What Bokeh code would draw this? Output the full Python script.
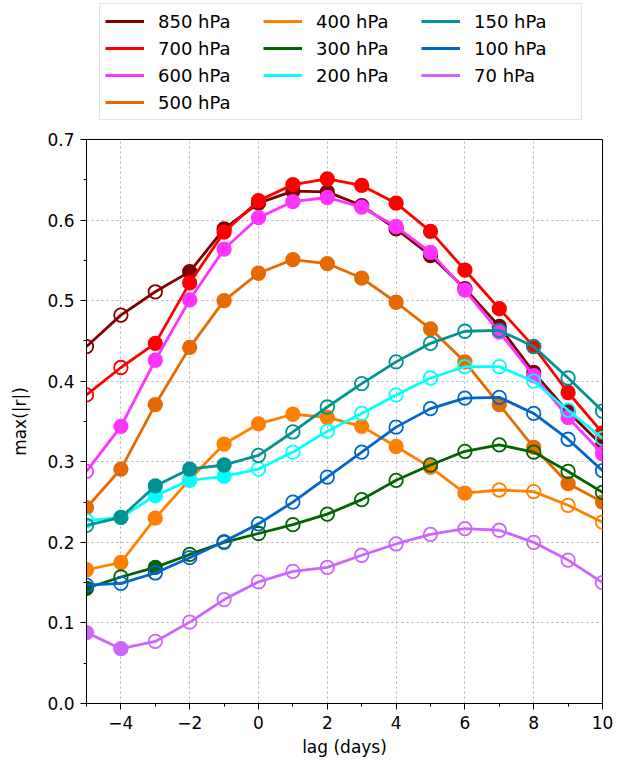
from bokeh.plotting import figure
from bokeh.layouts import column
from bokeh.models import (ColumnDataSource, Legend, LegendItem, Range1d, FixedTicker,
                          NumeralTickFormatter)
from bokeh.embed import file_html
from bokeh.resources import INLINE

lags = list(range(-5, 11))

levels = ["850 hPa", "700 hPa", "600 hPa", "500 hPa", "400 hPa", "300 hPa",
          "200 hPa", "150 hPa", "100 hPa", "70 hPa"]
colors = ["#800000", "#ff0000", "#ff33ff", "#e66a00", "#ff8000", "#006400",
          "#00ffff", "#009393", "#0066cc", "#cc66ff"]

r850 = [0.443, 0.482, 0.511, 0.536, 0.589, 0.621, 0.636, 0.635, 0.618, 0.589, 0.556, 0.515, 0.468, 0.411, 0.362, 0.320]
r700 = [0.383, 0.417, 0.447, 0.522, 0.585, 0.624, 0.644, 0.651, 0.643, 0.621, 0.586, 0.538, 0.490, 0.443, 0.386, 0.336]
r600 = [0.288, 0.344, 0.426, 0.501, 0.564, 0.603, 0.623, 0.628, 0.616, 0.592, 0.560, 0.513, 0.461, 0.407, 0.355, 0.310]
r500 = [0.243, 0.291, 0.371, 0.442, 0.500, 0.534, 0.551, 0.546, 0.528, 0.498, 0.465, 0.424, 0.371, 0.318, 0.273, 0.250]
r400 = [0.166, 0.175, 0.230, 0.278, 0.322, 0.347, 0.359, 0.355, 0.344, 0.319, 0.293, 0.261, 0.265, 0.263, 0.246, 0.225]
r300 = [0.143, 0.157, 0.169, 0.185, 0.200, 0.211, 0.222, 0.235, 0.253, 0.277, 0.296, 0.313, 0.321, 0.312, 0.288, 0.262]
r200 = [0.227, 0.231, 0.258, 0.277, 0.282, 0.291, 0.312, 0.338, 0.360, 0.383, 0.404, 0.418, 0.418, 0.400, 0.364, 0.329]
r150 = [0.221, 0.231, 0.270, 0.291, 0.296, 0.308, 0.337, 0.368, 0.397, 0.424, 0.447, 0.462, 0.463, 0.443, 0.404, 0.363]
r100 = [0.147, 0.149, 0.162, 0.181, 0.201, 0.223, 0.250, 0.281, 0.312, 0.343, 0.366, 0.379, 0.380, 0.360, 0.328, 0.289]
r70 = [0.088, 0.068, 0.077, 0.101, 0.129, 0.151, 0.164, 0.169, 0.184, 0.198, 0.210, 0.217, 0.215, 0.200, 0.178, 0.150]

# 1 = filled marker (significant), 0 = open marker
s850 = [0, 0, 0, 1, 1, 1, 1, 1, 1, 1, 1, 1, 1, 1, 1, 1]
s700 = [0, 0, 1, 1, 1, 1, 1, 1, 1, 1, 1, 1, 1, 1, 1, 1]
s600 = [0, 1, 1, 1, 1, 1, 1, 1, 1, 1, 1, 1, 1, 1, 1, 1]
s500 = [1, 1, 1, 1, 1, 1, 1, 1, 1, 1, 1, 1, 1, 1, 1, 1]
s400 = [1, 1, 1, 1, 1, 1, 1, 1, 1, 1, 1, 1, 0, 0, 0, 0]
s300 = [1, 0, 1, 0, 0, 0, 0, 0, 0, 0, 0, 0, 0, 0, 0, 0]
s200 = [0, 1, 1, 1, 1, 0, 0, 0, 0, 0, 0, 0, 0, 0, 0, 0]
s150 = [0, 1, 1, 1, 1, 0, 0, 0, 0, 0, 0, 0, 0, 0, 0, 0]
s100 = [0, 0, 0, 0, 0, 0, 0, 0, 0, 0, 0, 0, 0, 0, 0, 0]
s70 = [1, 1, 0, 0, 0, 0, 0, 0, 0, 0, 0, 0, 0, 0, 0, 0]

values = [r850, r700, r600, r500, r400, r300, r200, r150, r100, r70]
signif = [s850, s700, s600, s500, s400, s300, s200, s150, s100, s70]

# legend filled row by row (3 columns: 850-500 | 400-200 | 150-70)
legend_order = [0, 4, 7, 1, 5, 8, 2, 6, 9, 3]

x_ticks = [-4, -2, 0, 2, 4, 6, 8, 10]
x_tick_labels = ["\u22124", "\u22122", "0", "2", "4", "6", "8", "10"]
x_minor = list(range(-5, 11))
y_ticks = [0.0, 0.1, 0.2, 0.3, 0.4, 0.5, 0.6, 0.7]
y_minor = [0.05, 0.15, 0.25, 0.35, 0.45, 0.55, 0.65]

FONT = "DejaVu Sans"
LW = 2.8

p = figure(width=616, height=629, output_backend="svg", toolbar_location=None,
           x_range=Range1d(-5, 10), y_range=Range1d(0, 0.7),
           min_border_left=86, min_border_right=14, min_border_top=8, min_border_bottom=57)
p.background_fill_color = "white"
p.outline_line_color = "black"
p.outline_line_width = 1
p.outline_line_alpha = 1

p.xaxis.ticker = FixedTicker(ticks=x_ticks, minor_ticks=x_minor)
p.yaxis.ticker = FixedTicker(ticks=y_ticks, minor_ticks=y_minor)
p.xaxis.major_label_overrides = {t: l for t, l in zip(x_ticks, x_tick_labels)}
p.yaxis.formatter = NumeralTickFormatter(format="0.0")

for ax in (p.xaxis[0], p.yaxis[0]):
    ax.axis_line_color = "black"
    ax.major_tick_line_color = "black"
    ax.minor_tick_line_color = "black"
    ax.major_tick_in = 0
    ax.major_tick_out = 6
    ax.minor_tick_in = 0
    ax.minor_tick_out = 3
    ax.major_label_text_font = FONT
    ax.major_label_text_font_size = "17px"
    ax.major_label_text_color = "black"
    ax.axis_label_text_font = FONT
    ax.axis_label_text_font_size = "17px"
    ax.axis_label_text_font_style = "normal"
    ax.axis_label_text_color = "black"
    ax.major_label_standoff = 6

p.xaxis.axis_label = "lag (days)"
p.yaxis.axis_label = "max(|r|)"
p.xaxis.axis_label_standoff = 5
p.yaxis.axis_label_standoff = 14

p.xgrid.ticker = FixedTicker(ticks=x_ticks)
p.ygrid.ticker = FixedTicker(ticks=y_ticks)
for g in (p.xgrid[0], p.ygrid[0]):
    g.grid_line_color = "#b0b0b0"
    g.grid_line_dash = "2 3"
    g.grid_line_width = 1

sources = []
for col, vals, sig in zip(colors, values, signif):
    src = ColumnDataSource(dict(x=lags, y=vals, fa=[float(s) for s in sig]))
    sources.append(src)
    p.line("x", "y", source=src, line_color=col, line_width=LW)
    p.scatter("x", "y", source=src, marker="circle", size=13.5, line_color=col,
              line_width=1.8, fill_color=col, fill_alpha="fa")

# legend panel above the axes (matplotlib places it outside the axes).
# Its line renderers reuse the series data but lie outside this panel's y range,
# so only their legend glyphs show.
pl = figure(width=616, height=131, output_backend="svg", toolbar_location=None,
            x_axis_type=None, y_axis_type=None, x_range=Range1d(-5, 10),
            y_range=Range1d(5, 6), min_border=0, outline_line_color=None)
pl.xgrid.visible = False
pl.ygrid.visible = False
legend_renderers = [pl.line("x", "y", source=src, line_color=c, line_width=LW)
                    for src, c in zip(sources, colors)]
items = [LegendItem(label=levels[i], renderers=[legend_renderers[i]]) for i in legend_order]

legend = Legend(items=items, location=(13, 11), orientation="horizontal", ncols=3,
                label_text_font=FONT, label_text_font_size="18px",
                label_text_color="black",
                glyph_width=39, glyph_height=24, label_height=24, label_width=102,
                label_standoff=14, spacing=3, padding=5, margin=0,
                border_line_color="#cccccc", border_line_width=1,
                background_fill_color="white", background_fill_alpha=1)
pl.add_layout(legend, "center")

layout = column(pl, p, spacing=0)
open("out.html", "w").write(file_html(layout, INLINE))
